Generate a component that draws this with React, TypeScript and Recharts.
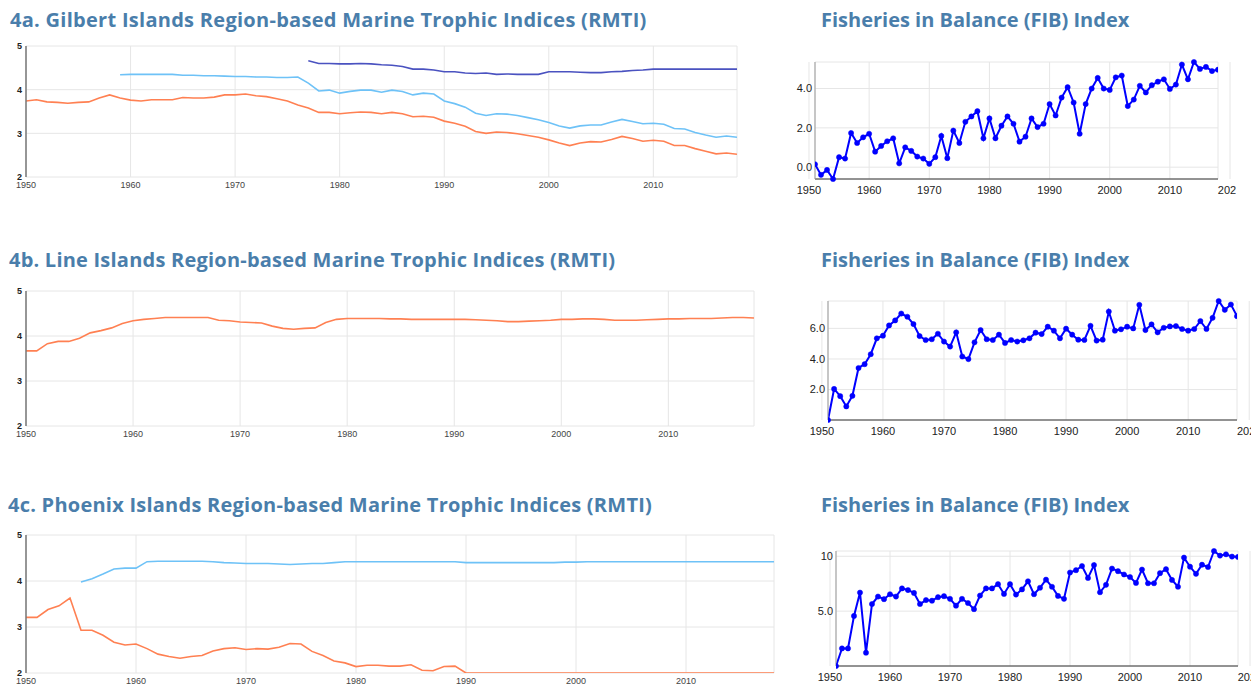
import { CartesianGrid, Line, LineChart, XAxis, YAxis } from "recharts";

const years = [
  1950, 1951, 1952, 1953, 1954, 1955, 1956, 1957, 1958, 1959,
  1960, 1961, 1962, 1963, 1964, 1965, 1966, 1967, 1968, 1969,
  1970, 1971, 1972, 1973, 1974, 1975, 1976, 1977, 1978, 1979,
  1980, 1981, 1982, 1983, 1984, 1985, 1986, 1987, 1988, 1989,
  1990, 1991, 1992, 1993, 1994, 1995, 1996, 1997, 1998, 1999,
  2000, 2001, 2002, 2003, 2004, 2005, 2006, 2007, 2008, 2009,
  2010, 2011, 2012, 2013, 2014, 2015, 2016, 2017, 2018,
];
const fibYears = years.slice(1);

const rmtiXTicks = [1950, 1960, 1970, 1980, 1990, 2000, 2010];
const rmtiYTicks = [2, 3, 4, 5];
const fibXTicks = [1950, 1960, 1970, 1980, 1990, 2000, 2010, 2020];

// 4a Gilbert Islands
const gilbertOrange = [
  3.74, 3.77, 3.72, 3.71, 3.69, 3.71, 3.72, 3.81, 3.88, 3.81,
  3.76, 3.74, 3.77, 3.77, 3.77, 3.82, 3.81, 3.81, 3.83, 3.88,
  3.88, 3.9, 3.86, 3.84, 3.79, 3.74, 3.65, 3.58, 3.48, 3.48,
  3.45, 3.47, 3.49, 3.48, 3.45, 3.48, 3.45, 3.38, 3.39, 3.37,
  3.28, 3.23, 3.16, 3.04, 3.0, 3.03, 3.02, 2.99, 2.95, 2.91,
  2.85, 2.78, 2.72, 2.78, 2.81, 2.8, 2.86, 2.93, 2.88, 2.82,
  2.84, 2.82, 2.72, 2.72, 2.65, 2.59, 2.53, 2.55, 2.52,
];
const gilbertLightBlue = [
  null, null, null, null, null, null, null, null, null, 4.34,
  4.35, 4.35, 4.35, 4.35, 4.35, 4.33, 4.33, 4.32, 4.32, 4.31,
  4.3, 4.3, 4.29, 4.29, 4.28, 4.28, 4.29, 4.15, 3.97, 3.99,
  3.92, 3.96, 3.99, 3.99, 3.94, 3.99, 3.96, 3.88, 3.92, 3.9,
  3.74, 3.68, 3.6, 3.46, 3.41, 3.45, 3.44, 3.41, 3.36, 3.31,
  3.25, 3.17, 3.12, 3.17, 3.19, 3.19, 3.26, 3.32, 3.27, 3.22,
  3.23, 3.21, 3.11, 3.1, 3.02, 2.96, 2.91, 2.94, 2.91,
];
const gilbertDarkBlue = [
  null, null, null, null, null, null, null, null, null, null,
  null, null, null, null, null, null, null, null, null, null,
  null, null, null, null, null, null, null, 4.66, 4.6, 4.6,
  4.59, 4.59, 4.6, 4.59, 4.57, 4.56, 4.53, 4.47, 4.47, 4.45,
  4.41, 4.41, 4.38, 4.37, 4.38, 4.35, 4.36, 4.35, 4.35, 4.35,
  4.41, 4.41, 4.41, 4.4, 4.39, 4.39, 4.41, 4.42, 4.44, 4.45,
  4.47, 4.47, 4.47, 4.47, 4.47, 4.47, 4.47, 4.47, 4.47,
];

// 4b Line Islands
const lineOrange = [
  3.67, 3.67, 3.83, 3.88, 3.88, 3.95, 4.07, 4.12, 4.18, 4.28,
  4.34, 4.37, 4.39, 4.41, 4.41, 4.41, 4.41, 4.41, 4.35, 4.34,
  4.31, 4.3, 4.29, 4.22, 4.17, 4.15, 4.17, 4.18, 4.3, 4.37,
  4.39, 4.39, 4.39, 4.39, 4.38, 4.38, 4.37, 4.37, 4.37, 4.37,
  4.37, 4.37, 4.36, 4.35, 4.34, 4.32, 4.32, 4.33, 4.34, 4.35,
  4.37, 4.37, 4.38, 4.38, 4.37, 4.35, 4.35, 4.35, 4.36, 4.37,
  4.38, 4.38, 4.39, 4.39, 4.39, 4.4, 4.41, 4.41, 4.4,
];

// 4c Phoenix Islands
const phoenixOrange = [
  3.21, 3.21, 3.38, 3.46, 3.63, 2.93, 2.93, 2.82, 2.67, 2.61,
  2.63, 2.53, 2.41, 2.36, 2.32, 2.36, 2.38, 2.48, 2.53, 2.55,
  2.51, 2.53, 2.52, 2.56, 2.64, 2.63, 2.47, 2.38, 2.26, 2.22,
  2.14, 2.17, 2.17, 2.15, 2.15, 2.18, 2.06, 2.05, 2.14, 2.15,
  2.0, 2.0, 2.0, 2.0, 2.0, 2.0, 2.0, 2.0, 2.0, 2.0,
  2.0, 2.0, 2.0, 2.0, 2.0, 2.0, 2.0, 2.0, 2.0, 2.0,
  2.0, 2.0, 2.0, 2.0, 2.0, 2.0, 2.0, 2.0, 2.0,
];
const phoenixLightBlue = [
  null, null, null, null, null, 3.98, 4.05, 4.15, 4.26, 4.28,
  4.28, 4.42, 4.43, 4.43, 4.43, 4.43, 4.43, 4.42, 4.4, 4.39,
  4.38, 4.38, 4.38, 4.37, 4.36, 4.37, 4.38, 4.38, 4.4, 4.42,
  4.42, 4.42, 4.42, 4.42, 4.42, 4.42, 4.42, 4.42, 4.42, 4.42,
  4.4, 4.4, 4.4, 4.4, 4.4, 4.4, 4.4, 4.4, 4.4, 4.41,
  4.41, 4.42, 4.42, 4.42, 4.42, 4.42, 4.42, 4.42, 4.42, 4.42,
  4.42, 4.42, 4.42, 4.42, 4.42, 4.42, 4.42, 4.42, 4.42,
];

// FIB indices, 1951-2018
const gilbertFib = [
  0.15, -0.39, -0.14, -0.6, 0.51, 0.44, 1.74, 1.23, 1.52, 1.7,
  0.79, 1.08, 1.32, 1.47, 0.2, 1.01, 0.83, 0.54, 0.44, 0.17,
  0.51, 1.59, 0.46, 1.86, 1.23, 2.31, 2.58, 2.85, 1.47, 2.48,
  1.47, 2.11, 2.58, 2.21, 1.3, 1.55, 2.48, 2.04, 2.21, 3.21,
  2.63, 3.54, 4.07, 3.29, 1.7, 3.21, 4.0, 4.54, 4.0, 3.93,
  4.57, 4.66, 3.11, 3.44, 4.14, 3.8, 4.17, 4.35, 4.47, 3.98,
  4.2, 5.22, 4.47, 5.35, 5.0, 5.1, 4.89, 4.96,
];
const lineFib = [
  0.01, 2.04, 1.57, 0.9, 1.59, 3.41, 3.66, 4.31, 5.35, 5.52,
  6.19, 6.52, 6.97, 6.76, 6.28, 5.5, 5.24, 5.29, 5.65, 5.14,
  4.81, 5.74, 4.16, 3.99, 5.09, 5.89, 5.29, 5.24, 5.59, 5.05,
  5.24, 5.14, 5.22, 5.35, 5.72, 5.63, 6.11, 5.85, 5.35, 5.98,
  5.59, 5.26, 5.24, 6.17, 5.2, 5.26, 7.1, 5.85, 5.94, 6.11,
  6.0, 7.54, 5.89, 6.26, 5.74, 6.04, 6.13, 6.15, 5.96, 5.85,
  5.96, 6.48, 5.96, 6.69, 7.79, 7.21, 7.56, 6.8,
];
const phoenixFib = [
  0.0, 1.6, 1.6, 4.56, 6.69, 1.21, 5.65, 6.33, 6.09, 6.54,
  6.33, 7.07, 6.92, 6.66, 5.65, 6.01, 5.95, 6.27, 6.36, 6.12,
  5.5, 6.12, 5.74, 5.18, 6.42, 7.07, 7.07, 7.46, 6.57, 7.46,
  6.51, 6.98, 7.72, 6.54, 7.13, 7.87, 7.22, 6.39, 6.12, 8.52,
  8.73, 9.11, 8.02, 9.2, 6.72, 7.4, 8.88, 8.64, 8.34, 8.11,
  7.57, 8.79, 7.54, 7.54, 8.46, 8.82, 7.84, 7.22, 9.88, 9.05,
  8.4, 9.23, 9.02, 10.48, 10.06, 10.18, 9.97, 9.94,
];

const colors = {
  title: "#4a7eab",
  orange: "#ff8052",
  lightBlue: "#6ec2f7",
  darkBlue: "#4a52c0",
  fib: "#0000ff",
  grid: "#e6e6e6",
};

type Series = { key: string; values: (number | null)[]; color: string };

function Title({ text, left, top, spacing = 0 }: { text: string; left: number; top: number; spacing?: number }) {
  return (
    <div
      style={{
        position: "absolute",
        left,
        top,
        fontFamily: "'Open Sans', sans-serif",
        fontWeight: 700,
        fontSize: 20,
        lineHeight: "24px",
        letterSpacing: spacing,
        color: colors.title,
        whiteSpace: "nowrap",
      }}
    >
      {text}
    </div>
  );
}

function RmtiChart({
  left,
  top,
  width,
  height,
  series,
}: {
  left: number;
  top: number;
  width: number;
  height: number;
  series: Series[];
}) {
  const data = years.map((year, i) => {
    const row: Record<string, number | null> = { year };
    series.forEach((s) => {
      row[s.key] = s.values[i];
    });
    return row;
  });
  return (
    <div style={{ position: "absolute", left, top }}>
      <LineChart width={width} height={height} data={data} margin={{ top: 10, right: 10, bottom: 0, left: 0 }}>
        <CartesianGrid stroke={colors.grid} />
        <XAxis
          dataKey="year"
          type="number"
          domain={[1950, 2018]}
          ticks={rmtiXTicks}
          interval={0}
          allowDataOverflow
          axisLine={false}
          tickLine={false}
          tickSize={3}
          tickMargin={2}
          height={20}
          tick={{ fontSize: 9, fill: "#444", fontFamily: "Arial, 'Liberation Sans', sans-serif" }}
        />
        <YAxis
          domain={[2, 5]}
          ticks={rmtiYTicks}
          interval={0}
          allowDataOverflow
          width={26}
          axisLine={{ stroke: "#777", strokeWidth: 1.5 }}
          tickLine={false}
          tickSize={3}
          tickMargin={1}
          tick={{ fontSize: 9, fontWeight: "bold", fill: "#222", fontFamily: "Arial, 'Liberation Sans', sans-serif" }}
        />
        {series.map((s) => (
          <Line
            key={s.key}
            dataKey={s.key}
            type="linear"
            stroke={s.color}
            strokeWidth={1.6}
            dot={false}
            isAnimationActive={false}
          />
        ))}
      </LineChart>
    </div>
  );
}

function formatFib(value: number): string {
  return value >= 10 ? String(value) : value.toFixed(1);
}

function FibChart({
  left,
  top,
  width,
  height,
  clipWidth,
  values,
  yTicks,
}: {
  left: number;
  top: number;
  width: number;
  height: number;
  clipWidth: number;
  values: number[];
  yTicks: number[];
}) {
  const data = fibYears.map((year, i) => ({ year, fib: values[i] }));
  return (
    <div style={{ position: "absolute", left, top, width: clipWidth, height, overflow: "hidden" }}>
      <LineChart width={width} height={height} data={data} margin={{ top: 10, right: 40, bottom: 0, left: 0 }}>
        <CartesianGrid stroke={colors.grid} />
        <XAxis
          dataKey="year"
          type="number"
          domain={[1951, 2018]}
          ticks={fibXTicks}
          interval={0}
          allowDataOverflow
          axisLine={{ stroke: "#333" }}
          tickLine={false}
          tickSize={5}
          tickMargin={2}
          height={22}
          tick={{ fontSize: 11, fill: "#222", fontFamily: "Arial, 'Liberation Sans', sans-serif" }}
        />
        <YAxis
          domain={["dataMin", "dataMax"]}
          ticks={yTicks}
          interval={0}
          width={40}
          axisLine={{ stroke: "#999" }}
          tickLine={false}
          tickSize={2}
          tickMargin={1}
          tickFormatter={(v) => formatFib(Number(v))}
          tick={{ fontSize: 11, fill: "#222", fontFamily: "Arial, 'Liberation Sans', sans-serif" }}
        />
        <Line
          dataKey="fib"
          type="linear"
          stroke={colors.fib}
          strokeWidth={2}
          dot={{ r: 2.6, fill: colors.fib, stroke: colors.fib, strokeWidth: 0.5 }}
          isAnimationActive={false}
        />
      </LineChart>
    </div>
  );
}

export default function App() {
  return (
    <div
      style={{
        position: "absolute",
        left: 0,
        top: 0,
        width: 1251,
        height: 688,
        overflow: "hidden",
        background: "#fff",
      }}
    >
      <Title text="4a. Gilbert Islands Region-based Marine Trophic Indices (RMTI)" left={10} top={8} spacing={0.28} />
      <Title text="Fisheries in Balance (FIB) Index" left={821} top={8} />
      <Title text="4b. Line Islands Region-based Marine Trophic Indices (RMTI)" left={9} top={248} spacing={0.22} />
      <Title text="Fisheries in Balance (FIB) Index" left={821} top={248} />
      <Title text="4c. Phoenix Islands Region-based Marine Trophic Indices (RMTI)" left={8} top={493} spacing={0.24} />
      <Title text="Fisheries in Balance (FIB) Index" left={821} top={493} />

      <RmtiChart
        left={0}
        top={36}
        width={747}
        height={161}
        series={[
          { key: "orange", values: gilbertOrange, color: colors.orange },
          { key: "lightBlue", values: gilbertLightBlue, color: colors.lightBlue },
          { key: "darkBlue", values: gilbertDarkBlue, color: colors.darkBlue },
        ]}
      />
      <RmtiChart
        left={0}
        top={281}
        width={764}
        height={165}
        series={[{ key: "orange", values: lineOrange, color: colors.orange }]}
      />
      <RmtiChart
        left={0}
        top={525}
        width={784}
        height={168}
        series={[
          { key: "orange", values: phoenixOrange, color: colors.orange },
          { key: "lightBlue", values: phoenixLightBlue, color: colors.lightBlue },
        ]}
      />

      <FibChart left={775} top={52} width={483} height={149} clipWidth={461} values={gilbertFib} yTicks={[0, 2, 4]} />
      <FibChart left={788} top={291} width={489} height={151} clipWidth={470} values={lineFib} yTicks={[2, 4, 6]} />
      <FibChart left={796} top={541} width={482} height={147} clipWidth={460} values={phoenixFib} yTicks={[5, 10]} />
    </div>
  );
}
